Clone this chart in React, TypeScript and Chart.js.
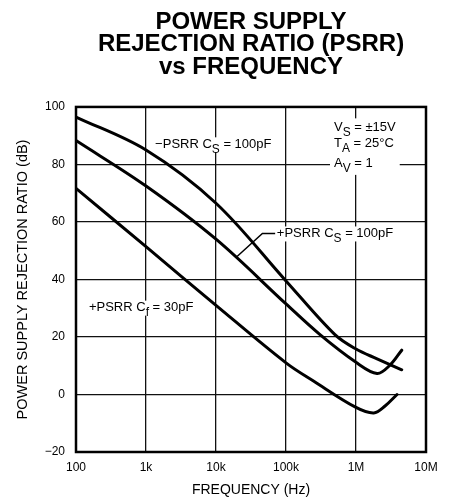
import React, { useEffect, useRef } from 'react';
import { Chart, registerables } from 'chart.js';

Chart.register(...registerables);

// ---- axes / ticks ----
const FREQ_TICKS = [100, 1000, 10000, 100000, 1000000, 10000000];
const FREQ_TICK_LABELS = ['100', '1k', '10k', '100k', '1M', '10M'];
const DB_TICKS = [-20, 0, 20, 40, 60, 80, 100];
const DB_TICK_LABELS = ['\u221220', '0', '20', '40', '60', '80', '100'];

const TITLE_LINES = ['POWER SUPPLY', 'REJECTION RATIO (PSRR)', 'vs FREQUENCY'];
const X_TITLE = 'FREQUENCY (Hz)';
const Y_TITLE = 'POWER SUPPLY REJECTION RATIO (dB)';

// ---- series: −PSRR, Cs = 100pF ----
const negCsFreq = [100, 1000, 10000, 100000, 500000, 1000000, 2000000, 4500000];
const negCsPsrr = [96.5, 85, 66.5, 39.5, 20.8, 15.8, 12.4, 8.6];

// ---- series: +PSRR, Cs = 100pF ----
const posCsFreq = [100, 1000, 10000, 100000, 300000, 1000000, 2000000, 3000000, 4500000];
const posCsPsrr = [88.3, 72.5, 54, 31.5, 21, 11.2, 7.3, 10, 15.4];

// ---- series: +PSRR, Cf = 30pF ----
const posCfFreq = [100, 1000, 10000, 100000, 250000, 1000000, 1800000, 2600000, 3850000];
const posCfPsrr = [71.7, 51.4, 31, 11, 4.6, -4.5, -6.4, -4, 0];

// ---- annotation texts & anchors (data space) ----
const NEG_LABEL = [{ t: '\u2212PSRR C' }, { t: 'S', sub: true }, { t: ' = 100pF' }];
const NEG_LABEL_AT = { f: 1350, db: 87 };
const POS_LABEL = [{ t: '+PSRR C' }, { t: 'S', sub: true }, { t: ' = 100pF' }];
const POS_LABEL_AT = { f: 74000, db: 56 };
const POS_LEADER = [
  { f: 20000, db: 48 },
  { f: 46000, db: 56 },
  { f: 70000, db: 56 },
];
const CF_LABEL = [{ t: '+PSRR C' }, { t: 'f', sub: true }, { t: ' = 30pF' }];
const CF_LABEL_AT = { f: 153, db: 30.2 };
const COND_LINES = [
  [{ t: 'V' }, { t: 'S', sub: true }, { t: ' = \u00b115V' }],
  [{ t: 'T' }, { t: 'A', sub: true }, { t: ' = 25\u00b0C' }],
  [{ t: 'A' }, { t: 'V', sub: true }, { t: ' = 1' }],
];
const COND_AT = { f: 485000, db: [92.9, 87.2, 80.2] };

const FONT = '"Liberation Sans", Arial, Helvetica, sans-serif';

type Seg = { t: string; sub?: boolean };

function richWidth(ctx: CanvasRenderingContext2D, segs: Seg[], size: number) {
  let w = 0;
  for (const s of segs) {
    ctx.font = `${s.sub ? size * 0.92 : size}px ${FONT}`;
    w += ctx.measureText(s.t).width;
  }
  return w;
}

function drawRich(ctx: CanvasRenderingContext2D, segs: Seg[], x: number, yMid: number, size: number) {
  ctx.fillStyle = '#000';
  ctx.textAlign = 'left';
  ctx.textBaseline = 'middle';
  let cx = x;
  for (const s of segs) {
    const fs = s.sub ? size * 0.92 : size;
    ctx.font = `${fs}px ${FONT}`;
    ctx.fillText(s.t, cx, yMid + (s.sub ? size * 0.38 : 0));
    cx += ctx.measureText(s.t).width;
  }
}

const annotations = {
  id: 'psrrAnnotations',
  afterDatasetsDraw(chart: any) {
    const { ctx, chartArea, scales } = chart;
    const xs = scales.x;
    const ys = scales.y;
    ctx.save();

    // frame
    ctx.strokeStyle = '#000';
    ctx.lineWidth = 2.5;
    ctx.strokeRect(chartArea.left, chartArea.top, chartArea.right - chartArea.left, chartArea.bottom - chartArea.top);

    const size = 13;

    // −PSRR label
    {
      const x = xs.getPixelForValue(NEG_LABEL_AT.f);
      const y = ys.getPixelForValue(NEG_LABEL_AT.db);
      const w = richWidth(ctx, NEG_LABEL, size);
      ctx.fillStyle = '#fff';
      ctx.fillRect(x - 2, y - 7, w + 4, 15);
      drawRich(ctx, NEG_LABEL, x, y, size);
    }

    // +PSRR Cs label with leader
    {
      const x = xs.getPixelForValue(POS_LABEL_AT.f);
      const y = ys.getPixelForValue(POS_LABEL_AT.db);
      const w = richWidth(ctx, POS_LABEL, size);
      ctx.fillStyle = '#fff';
      ctx.fillRect(x - 2, y - 7, w + 4, 15);
      ctx.strokeStyle = '#000';
      ctx.lineWidth = 1.5;
      ctx.beginPath();
      POS_LEADER.forEach((p, i) => {
        const px = xs.getPixelForValue(p.f);
        const py = ys.getPixelForValue(p.db);
        if (i === 0) ctx.moveTo(px, py);
        else ctx.lineTo(px, py);
      });
      ctx.stroke();
      drawRich(ctx, POS_LABEL, x, y, size);
    }

    // +PSRR Cf label
    {
      const x = xs.getPixelForValue(CF_LABEL_AT.f);
      const y = ys.getPixelForValue(CF_LABEL_AT.db);
      const w = richWidth(ctx, CF_LABEL, size);
      ctx.fillStyle = '#fff';
      ctx.fillRect(x - 2, y - 7, w + 4, 15);
      drawRich(ctx, CF_LABEL, x, y, size);
    }

    // conditions block
    {
      const x = xs.getPixelForValue(COND_AT.f);
      const ysPix = COND_AT.db.map((d) => ys.getPixelForValue(d));
      const w = Math.max(...COND_LINES.map((l) => richWidth(ctx, l, size)));
      ctx.fillStyle = '#fff';
      ctx.fillRect(x - 4, ysPix[0] - 9, w + 8, ysPix[2] - ysPix[0] + 20);
      COND_LINES.forEach((l, i) => drawRich(ctx, l, x, ysPix[i], size));
    }

    ctx.restore();
  },
};

function toPoints(f: number[], v: number[]) {
  return f.map((x, i) => ({ x, y: v[i] }));
}

export default function App() {
  const ref = useRef<HTMLCanvasElement | null>(null);

  useEffect(() => {
    if (!ref.current) return;
    Chart.defaults.font.family = FONT;
    Chart.defaults.color = '#000';

    const lineStyle = {
      borderColor: '#000',
      borderWidth: 3,
      pointRadius: 0,
      fill: false,
      tension: 0.35,
      borderJoinStyle: 'round' as const,
      borderCapStyle: 'round' as const,
    };

    const chart = new Chart(ref.current, {
      type: 'line',
      data: {
        datasets: [
          { label: '-PSRR Cs = 100pF', data: toPoints(negCsFreq, negCsPsrr), ...lineStyle },
          { label: '+PSRR Cs = 100pF', data: toPoints(posCsFreq, posCsPsrr), ...lineStyle },
          { label: '+PSRR Cf = 30pF', data: toPoints(posCfFreq, posCfPsrr), ...lineStyle },
        ],
      },
      options: {
        animation: false,
        responsive: false,
        devicePixelRatio: 1,
        layout: { padding: { left: 0, right: 29, top: 0, bottom: 0 } },
        plugins: {
          legend: { display: false },
          tooltip: { enabled: false },
          title: {
            display: true,
            fullSize: false,
            text: TITLE_LINES,
            color: '#000',
            font: { size: 24, weight: 'bold', family: FONT, lineHeight: 0.945 },
            padding: { top: 10.6, bottom: 28.3 },
          },
        },
        scales: {
          x: {
            type: 'logarithmic',
            min: 100,
            max: 10000000,
            afterBuildTicks: (scale: any) => {
              scale.ticks = FREQ_TICKS.map((v) => ({ value: v, major: true }));
            },
            afterFit: (scale: any) => {
              scale.height = 50;
            },
            ticks: {
              autoSkip: false,
              maxRotation: 0,
              padding: 8,
              color: '#000',
              font: { size: 12 },
              callback: (value: any) => {
                const i = FREQ_TICKS.indexOf(Number(value));
                return i >= 0 ? FREQ_TICK_LABELS[i] : '';
              },
            },
            grid: { color: '#111', lineWidth: 1.3, drawTicks: false },
            border: { display: false },
            title: {
              display: true,
              text: X_TITLE,
              color: '#000',
              font: { size: 14 },
              padding: { top: 0, bottom: 3.6 },
            },
          },
          y: {
            type: 'linear',
            min: -20,
            max: 100,
            afterBuildTicks: (scale: any) => {
              scale.ticks = DB_TICKS.map((v) => ({ value: v }));
            },
            afterFit: (scale: any) => {
              scale.width = 76;
            },
            ticks: {
              padding: 11,
              color: '#000',
              font: { size: 12 },
              callback: (value: any) => {
                const i = DB_TICKS.indexOf(Number(value));
                return i >= 0 ? DB_TICK_LABELS[i] : '';
              },
            },
            grid: { color: '#111', lineWidth: 1.3, drawTicks: false },
            border: { display: false },
            title: {
              display: true,
              text: Y_TITLE,
              color: '#000',
              font: { size: 14.5 },
              padding: { top: 14.3, bottom: 0 },
            },
          },
        },
      },
      plugins: [annotations],
    } as any);

    return () => chart.destroy();
  }, []);

  return (
    <div style={{ position: 'absolute', left: 0, top: 0, width: 455, height: 502, background: '#fff' }}>
      <canvas ref={ref} width={455} height={502} style={{ display: 'block' }} />
    </div>
  );
}
